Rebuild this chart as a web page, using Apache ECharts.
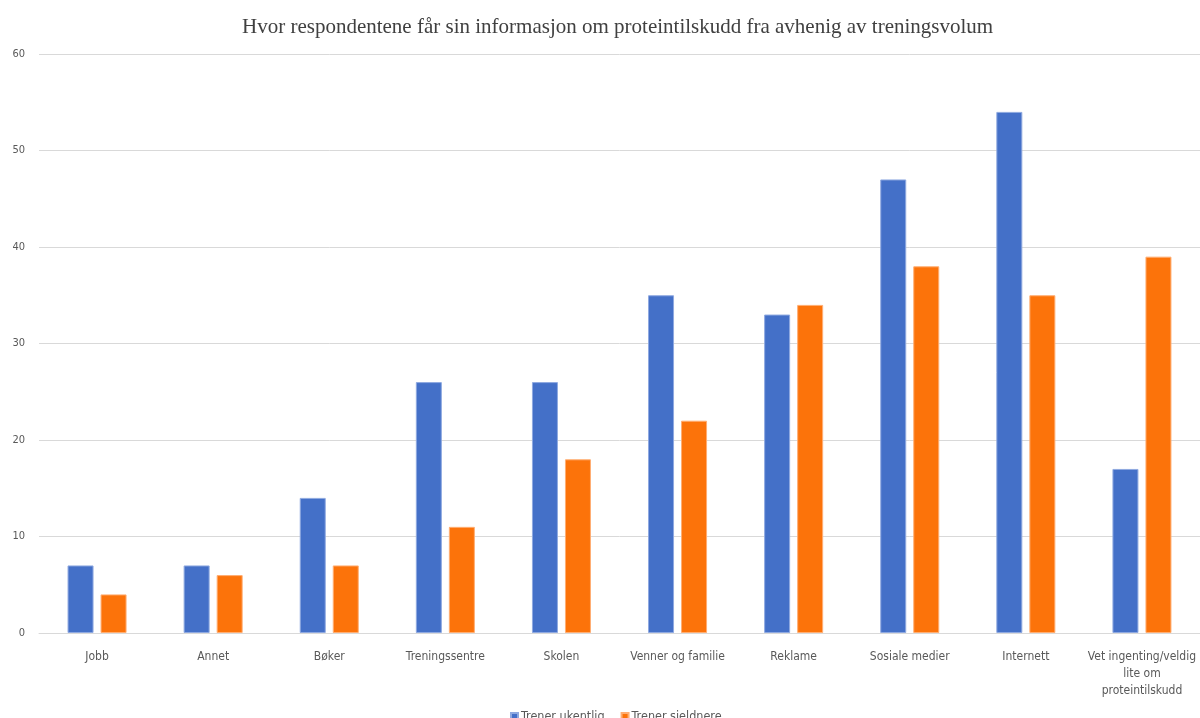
<!DOCTYPE html>
<html>
<head>
<meta charset="utf-8">
<script src="https://cdn.jsdelivr.net/npm/echarts@6/dist/echarts.min.js"></script>
<style>
  html, body { margin: 0; padding: 0; background: #ffffff; }
  #chart { width: 1200px; height: 718px; }
</style>
</head>
<body>
<div id="chart"></div>
<script>
// Information sources by training volume
const categories = [
  'Jobb', 'Annet', 'Bøker', 'Treningssentre', 'Skolen',
  'Venner og familie', 'Reklame', 'Sosiale medier', 'Internett',
  'Vet ingenting/veldig\nlite om\nproteintilskudd'
];
const trenerUkentlig = [7, 7, 14, 26, 26, 35, 33, 47, 54, 17];
const trenerSjeldnere = [4, 6, 7, 11, 18, 22, 34, 38, 35, 39];
const yTicks = { min: 0, max: 60, interval: 10 };

const labelFont = '"Liberation Sans Narrow", "DejaVu Sans Condensed", "Liberation Sans", sans-serif';

const chart = echarts.init(document.getElementById('chart'), null, { renderer: 'canvas' });

chart.setOption({
  backgroundColor: '#ffffff',
  animation: false,
  title: {
    text: 'Hvor respondentene får sin informasjon om proteintilskudd fra avhenig av treningsvolum',
    left: 237,
    top: 12,
    textStyle: {
      fontFamily: '"Liberation Serif", "DejaVu Serif", serif',
      fontWeight: 'normal',
      fontSize: 21,
      color: '#404040'
    }
  },
  legend: {
    top: 705,
    left: 505,
    itemWidth: 7,
    itemHeight: 7,
    itemGap: 16,
    icon: 'rect',
    textStyle: { fontFamily: labelFont, fontSize: 12.5, color: '#595959', padding: [0, 0, 0, -2] },
    data: ['Trener ukentlig', 'Trener sjeldnere']
  },
  grid: {
    left: 39,
    top: 54,
    width: 1167,
    height: 579,
    containLabel: false
  },
  xAxis: {
    type: 'category',
    data: categories,
    axisLine: { lineStyle: { color: '#d9d9d9', width: 1 } },
    axisTick: { show: false },
    axisLabel: {
      interval: 0,
      margin: 15,
      fontFamily: labelFont,
      fontSize: 12,
      lineHeight: 17,
      color: '#595959'
    }
  },
  yAxis: {
    type: 'value',
    min: yTicks.min,
    max: yTicks.max,
    interval: yTicks.interval,
    axisLine: { show: false },
    axisTick: { show: false },
    splitLine: { lineStyle: { color: '#d9d9d9', width: 1 } },
    axisLabel: {
      margin: 14,
      fontFamily: labelFont,
      fontSize: 11,
      color: '#595959'
    }
  },
  series: [
    {
      name: 'Trener ukentlig',
      type: 'bar',
      data: trenerUkentlig,
      barWidth: 26,
      barGap: '27%',
      itemStyle: { color: '#4470C8', borderColor: '#8FA9E0', borderWidth: 1 }
    },
    {
      name: 'Trener sjeldnere',
      type: 'bar',
      data: trenerSjeldnere,
      barWidth: 26,
      itemStyle: { color: '#FC730A', borderColor: '#FFAE73', borderWidth: 1 }
    }
  ]
});
</script>
</body>
</html>
